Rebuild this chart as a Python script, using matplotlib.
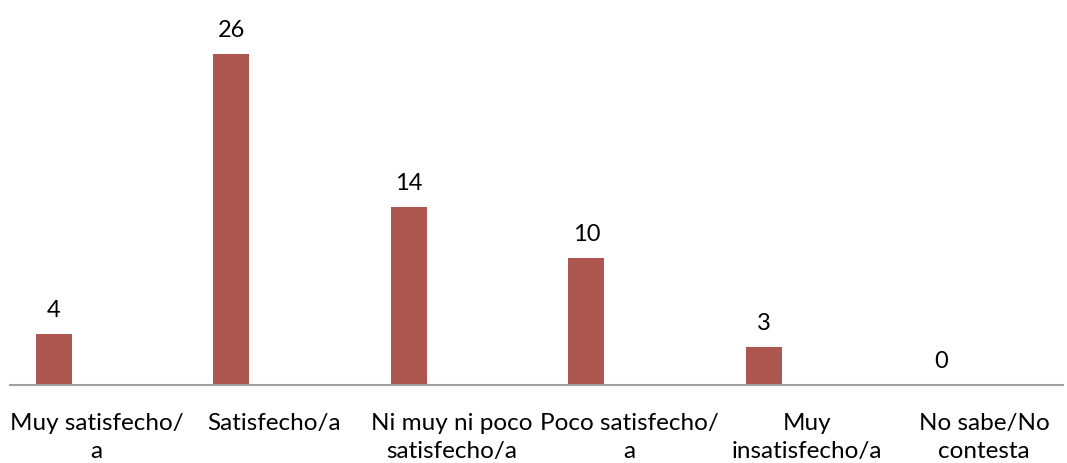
import matplotlib
matplotlib.use("Agg")
import matplotlib.pyplot as plt
import numpy as np

categories = ["Muy satisfecho/\na", "Satisfecho/a", "Ni muy ni poco\nsatisfecho/a",
              "Poco satisfecho/\na", "Muy\ninsatisfecho/a", "No sabe/No\ncontesta"]
values = [4, 26, 14, 10, 3, 0]

plt.rcParams['font.family'] = ['Lato', 'DejaVu Sans']

fig = plt.figure(figsize=(10.67, 4.63), dpi=100)
ax = fig.add_axes([8/1067, 78/463, 1065/1067, 382/463])

x = np.arange(len(categories))
bx = x - 0.241
bars = ax.bar(bx, values, width=0.203, color='#AE5650', zorder=2)
for xi, v in zip(bx, values):
    ax.text(xi, v + 1.0, str(v), ha='center', va='bottom', fontsize=17, color='black')

ax.set_xlim(-0.5, 5.5)
ax.set_ylim(0, 30)
ax.set_xticks(x)
ax.set_xticklabels(categories, fontsize=17.5, linespacing=1.45, va='top')
ax.tick_params(axis='x', length=0, pad=20)
ax.set_yticks([])
for s in ['top', 'right', 'left']:
    ax.spines[s].set_visible(False)
ax.spines['bottom'].set_color('#A0A0A0')
ax.spines['bottom'].set_linewidth(1.5)
ax.spines['bottom'].set_bounds(-0.489, 5.444)

fig.savefig('out.png', dpi=100)
